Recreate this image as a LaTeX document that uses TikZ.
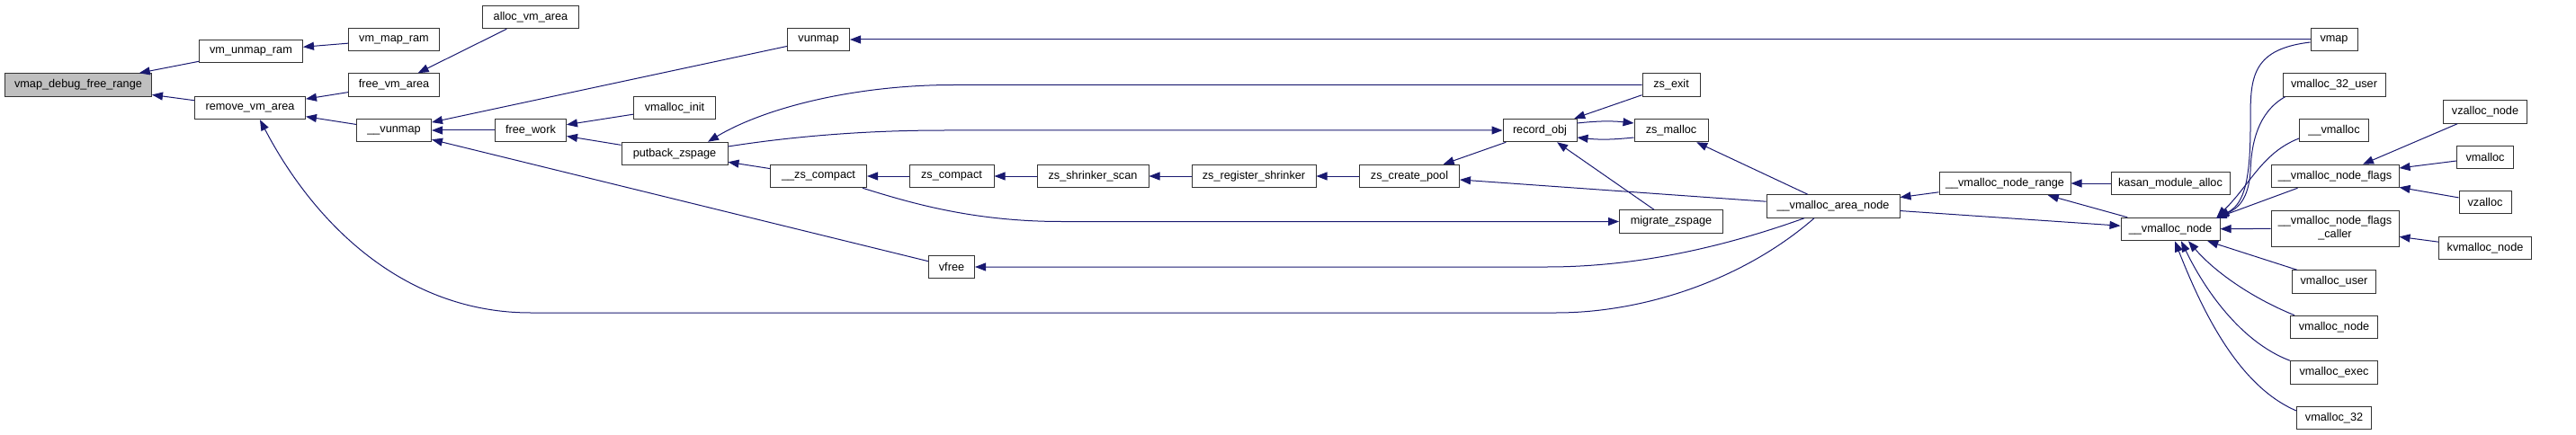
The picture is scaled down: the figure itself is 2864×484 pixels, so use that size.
\documentclass[tikz,border=0pt]{standalone}
\usepackage{fontspec}
\setmainfont{Liberation Sans}
\usetikzlibrary{arrows.meta}
\definecolor{edgecol}{HTML}{191970}
\definecolor{rootfill}{HTML}{BFBFBF}
\begin{document}
\begin{tikzpicture}[x=1pt,y=-1pt,
  box/.style={draw=black!80, line width=1pt, fill=white, rectangle, inner sep=0pt,
    minimum height=25.5pt, font=\fontsize{12.7}{15}\selectfont, align=center},
  rootbox/.style={box, fill=rootfill},
  link/.style={draw=edgecol, line width=1pt, {Triangle[length=12pt,width=9pt]}-},
  linkto/.style={draw=edgecol, line width=1pt, -{Triangle[length=12pt,width=9pt]}}]
\useasboundingbox (0,0) rectangle (2864,484);
% nodes
\node[rootbox, minimum width=163pt] (root) at (87,94.5) {vmap\_debug\_free\_range};
\node[box, minimum width=115pt] (vmunmapram) at (279,57) {vm\_unmap\_ram};
\node[box, minimum width=101pt] (vmmapram) at (438,44) {vm\_map\_ram};
\node[box, minimum width=107pt] (allocvmarea) at (590,19) {alloc\_vm\_area};
\node[box, minimum width=101pt] (freevmarea) at (438,94.5) {free\_vm\_area};
\node[box, minimum width=123pt] (removevmarea) at (278,120) {remove\_vm\_area};
\node[box, minimum width=83pt] (uvunmap) at (438,145) {\_\_vunmap};
\node[box, minimum width=79pt] (freework) at (590,145) {free\_work};
\node[box, minimum width=69pt] (vunmap) at (910,44) {vunmap};
\node[box, minimum width=91pt] (vmallocinit) at (750,120) {vmalloc\_init};
\node[box, minimum width=118pt] (putback) at (750,171) {putback\_zspage};
\node[box, minimum width=107pt] (uzscompact) at (910,196) {\_\_zs\_compact};
\node[box, minimum width=94pt] (zscompact) at (1058,196) {zs\_compact};
\node[box, minimum width=124pt] (zsshrinkerscan) at (1215,196) {zs\_shrinker\_scan};
\node[box, minimum width=138pt] (zsregister) at (1394,196) {zs\_register\_shrinker};
\node[box, minimum width=51pt] (vfree) at (1058,297) {vfree};
\node[box, minimum width=64pt] (zsexit) at (1858,94.5) {zs\_exit};
\node[box, minimum width=82pt] (recordobj) at (1712,145) {record\_obj};
\node[box, minimum width=82pt] (zsmalloc) at (1858,145) {zs\_malloc};
\node[box, minimum width=111pt] (zscreatepool) at (1567,196) {zs\_create\_pool};
\node[box, minimum width=148pt] (areanode) at (2038,229.5) {\_\_vmalloc\_area\_node};
\node[box, minimum width=115pt] (migrate) at (1858,246.5) {migrate\_zspage};
\node[box, minimum width=52pt] (vmap) at (2595,44) {vmap};
\node[box, minimum width=114pt] (v32user) at (2595,94.5) {vmalloc\_32\_user};
\node[box, minimum width=77pt] (uvmalloc) at (2595,145) {\_\_vmalloc};
\node[box, minimum width=93pt] (vzallocnode) at (2763,124.5) {vzalloc\_node};
\node[box, minimum width=63pt] (vmalloc) at (2763,175) {vmalloc};
\node[box, minimum width=142pt] (nodeflags) at (2596,196) {\_\_vmalloc\_node\_flags};
\node[box, minimum width=58pt] (vzalloc) at (2763,225) {vzalloc};
\node[box, minimum width=146pt] (noderange) at (2229,204) {\_\_vmalloc\_node\_range};
\node[box, minimum width=132pt] (kasan) at (2413,204) {kasan\_module\_alloc};
\node[box, minimum width=110pt] (unode) at (2413,255) {\_\_vmalloc\_node};
\node[box, minimum width=142pt, minimum height=40pt] (flagscaller) at (2596,254) {\_\_vmalloc\_node\_flags\\\_caller};
\node[box, minimum width=103pt] (kvmallocnode) at (2763,276) {kvmalloc\_node};
\node[box, minimum width=93pt] (vmallocuser) at (2595,313.5) {vmalloc\_user};
\node[box, minimum width=97pt] (vmallocnode) at (2595,364) {vmalloc\_node};
\node[box, minimum width=97pt] (vmallocexec) at (2595,414.5) {vmalloc\_exec};
\node[box, minimum width=83pt] (vmalloc32) at (2595,465) {vmalloc\_32};
% edges: left part
\draw[link] (root) -- (vmunmapram);
\draw[link] (vmunmapram) -- (vmmapram);
\draw[link] (root) -- (removevmarea);
\draw[link] (removevmarea) -- (freevmarea);
\draw[link] (freevmarea) -- (allocvmarea);
\draw[link] (removevmarea) -- (uvunmap);
\draw[link] ([xshift=11pt]removevmarea.south) .. controls (350,250) and (450,348) .. (590,348)
  -- (1730,348) .. controls (1830,348) and (1940,310) .. ([xshift=-21pt]areanode.south);
\draw[link] (vfree) -- (1720,297) .. controls (1830,297) and (1930,270) .. ([xshift=-32pt]areanode.south);
\draw[link] (uvunmap) -- (freework);
\draw[link] (uvunmap) -- (vunmap);
\draw[link] (uvunmap) -- (vfree);
\draw[link] (freework) -- (vmallocinit);
\draw[link] (freework) -- (putback);
\draw[link] (putback) -- (uzscompact);
\draw[link] (uzscompact) -- (zscompact);
\draw[link] (zscompact) -- (zsshrinkerscan);
\draw[link] (zsshrinkerscan) -- (zsregister);
\draw[link] (zsregister) -- (zscreatepool);
\draw[link] ([xshift=37pt]putback.north) .. controls (850,120) and (950,94.5) .. (1060,94.5) -- (zsexit.west);
\draw[linkto] ([yshift=8pt]putback.east) .. controls (880,152) and (960,145) .. (1050,145) -- (recordobj.west);
\draw[linkto] ([xshift=-5pt]uzscompact.south east) .. controls (1010,225) and (1080,246.5) .. (1180,246.5) -- (migrate.west);
\draw[link] (vunmap) -- (vmap);
% zsmalloc cluster
\draw[link] (recordobj) -- (zsexit);
\draw[linkto] ([yshift=8pt]recordobj.east) to[bend left=6] ([yshift=8pt]zsmalloc.west);
\draw[linkto] ([yshift=-8pt]zsmalloc.west) to[bend left=6] ([yshift=-8pt]recordobj.east);
\draw[link] (zscreatepool) -- (recordobj);
\draw[link] (recordobj) -- (migrate);
\draw[link] (zsmalloc) -- (areanode);
\draw[link] (zscreatepool) -- (areanode);
% vmalloc part
\draw[link] (areanode) -- (noderange);
\draw[link] (unode) -- (areanode);
\draw[link] (noderange) -- (kasan);
\draw[link] (noderange) -- (unode);
\draw[linkto] ([yshift=-3pt]vmap.west) .. controls (2500,55) and (2502,90) .. (2502,140)
  .. controls (2502,210) and (2492,228) .. ([xshift=-2pt]unode.north east);
\draw[linkto] ([xshift=3pt]v32user.south west) .. controls (2510,125) and (2503,160) .. (2502,190)
  .. controls (2500,222) and (2488,232) .. ([xshift=-3pt]unode.north east);
\draw[linkto] ([yshift=-9pt]uvmalloc.west) .. controls (2515,170) and (2502,205) .. ([xshift=-4pt]unode.north east);
\draw[linkto] ([xshift=30pt]nodeflags.south west) -- ([xshift=-5pt,yshift=-1pt]unode.north east);
\draw[link] (nodeflags) -- (vzallocnode);
\draw[link] (nodeflags) -- (vmalloc);
\draw[link] (nodeflags) -- (vzalloc);
\draw[link] (unode) -- (flagscaller);
\draw[link] (flagscaller) -- (kvmallocnode);
\draw[link] (unode) -- (vmallocuser);
\draw[linkto] ([xshift=5pt]vmallocnode.north west) .. controls (2500,330) and (2460,300) .. ([xshift=20pt]unode.south);
\draw[linkto] (vmallocexec.north west) .. controls (2490,380) and (2450,320) .. ([xshift=12pt]unode.south);
\draw[linkto] ([yshift=8pt]vmalloc32.west) .. controls (2490,430) and (2450,350) .. ([xshift=5pt]unode.south);
\end{tikzpicture}
\end{document}
